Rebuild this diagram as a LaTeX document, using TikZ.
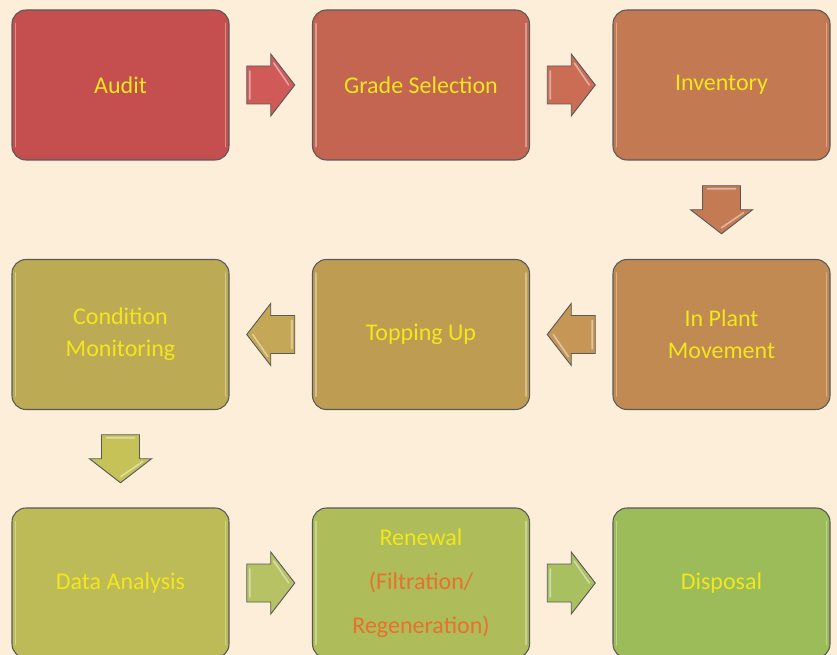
\documentclass[tikz,border=0pt]{standalone}
\usepackage{fontspec}
\setmainfont{Carlito}
\usetikzlibrary{calc}
\definecolor{bg}{HTML}{FDEEDA}
\definecolor{txt}{HTML}{F2E61C}
\definecolor{org}{HTML}{E6722E}
\definecolor{c1}{HTML}{C44F4E}
\definecolor{c2}{HTML}{C36550}
\definecolor{c3}{HTML}{C37A53}
\definecolor{c4}{HTML}{C08A52}
\definecolor{c5}{HTML}{BE9D53}
\definecolor{c6}{HTML}{BCAB54}
\definecolor{c7}{HTML}{BDBB57}
\definecolor{c8}{HTML}{AEBC5A}
\definecolor{c9}{HTML}{9CBC5A}
\definecolor{a1}{HTML}{D05A58}
\definecolor{a2}{HTML}{CB6C55}
\definecolor{a3}{HTML}{C47B54}
\definecolor{a4}{HTML}{C69656}
\definecolor{a5}{HTML}{C4A857}
\definecolor{a6}{HTML}{C6C258}
\definecolor{a7}{HTML}{B6C263}
\definecolor{a8}{HTML}{A8C060}
\tikzset{
  box/.style={draw=black!65, line width=0.8pt, rounded corners=10.5pt,
    minimum width=162.75pt, minimum height=112.5pt, text=txt,
    font=\fontsize{18}{24}\selectfont, align=center, inner sep=0pt},
  blockarrow/.pic={
    \path[pic actions, draw=black!65, line width=0.7pt]
      (-24,-19) -- (0,-19) -- (0,-31) -- (24,0) -- (0,31) -- (0,19) -- (-24,19) -- cycle;
    \draw[white, opacity=0.45, line width=1.2pt, line cap=round]
      (-21,-14) -- (-21,14) (3,-22) -- (18,0);
  }
}
\begin{document}
\begin{tikzpicture}[x=0.75pt,y=-0.75pt]
\fill[bg] (0,0) rectangle (837,655);
\useasboundingbox (0,0) rectangle (837,655);
\clip (0,0) rectangle (837,655);
% boxes
\node[box, fill=c1] (audit) at (120.5,85) {Audit};
\node[box, fill=c2] (grade) at (421,85) {Grade Selection};
\node[box, fill=c3] (inv) at (721.5,85) {Inventory};
\node[box, fill=c4] (plant) at (721.5,334.5) {In Plant\\Movement};
\node[box, fill=c5] (top) at (421,334.5) {Topping Up};
\node[box, fill=c6] (cond) at (120.5,334.5) {Condition\\Monitoring};
\node[box, fill=c7] (data) at (120.5,583) {Data Analysis};
\node[box, fill=c8, font=\fontsize{18}{33}\selectfont] (ren) at (421,583) {Renewal\\\textcolor{org}{(Filtration/}\\\textcolor{org}{Regeneration)}};
\node[box, fill=c9] (disp) at (721.5,583) {Disposal};
% inner highlights
\foreach \n in {audit,grade,inv,plant,top,cond,data,ren,disp}{
  \draw[white, opacity=0.35, line width=1.2pt, line cap=round]
    ([shift={(4,14)}]\n.north west) -- ([shift={(4,-14)}]\n.south west)
    ([shift={(-4,14)}]\n.north east) -- ([shift={(-4,-14)}]\n.south east);
}
% arrows
\coordinate (m1) at ($(audit.east)!0.5!(grade.west)$);
\coordinate (m2) at ($(grade.east)!0.5!(inv.west)$);
\coordinate (m3) at ($(inv.south)!0.5!(plant.north)$);
\coordinate (m4) at ($(plant.west)!0.5!(top.east)$);
\coordinate (m5) at ($(top.west)!0.5!(cond.east)$);
\coordinate (m6) at ($(cond.south)!0.5!(data.north)$);
\coordinate (m7) at ($(data.east)!0.5!(ren.west)$);
\coordinate (m8) at ($(ren.east)!0.5!(disp.west)$);
\pic[fill=a1] at (m1) {blockarrow};
\pic[fill=a2] at (m2) {blockarrow};
\pic[fill=a3, rotate=-90] at (m3) {blockarrow};
\pic[fill=a4, rotate=180] at (m4) {blockarrow};
\pic[fill=a5, rotate=180] at (m5) {blockarrow};
\pic[fill=a6, rotate=-90] at (m6) {blockarrow};
\pic[fill=a7] at (m7) {blockarrow};
\pic[fill=a8] at (m8) {blockarrow};
\end{tikzpicture}
\end{document}
